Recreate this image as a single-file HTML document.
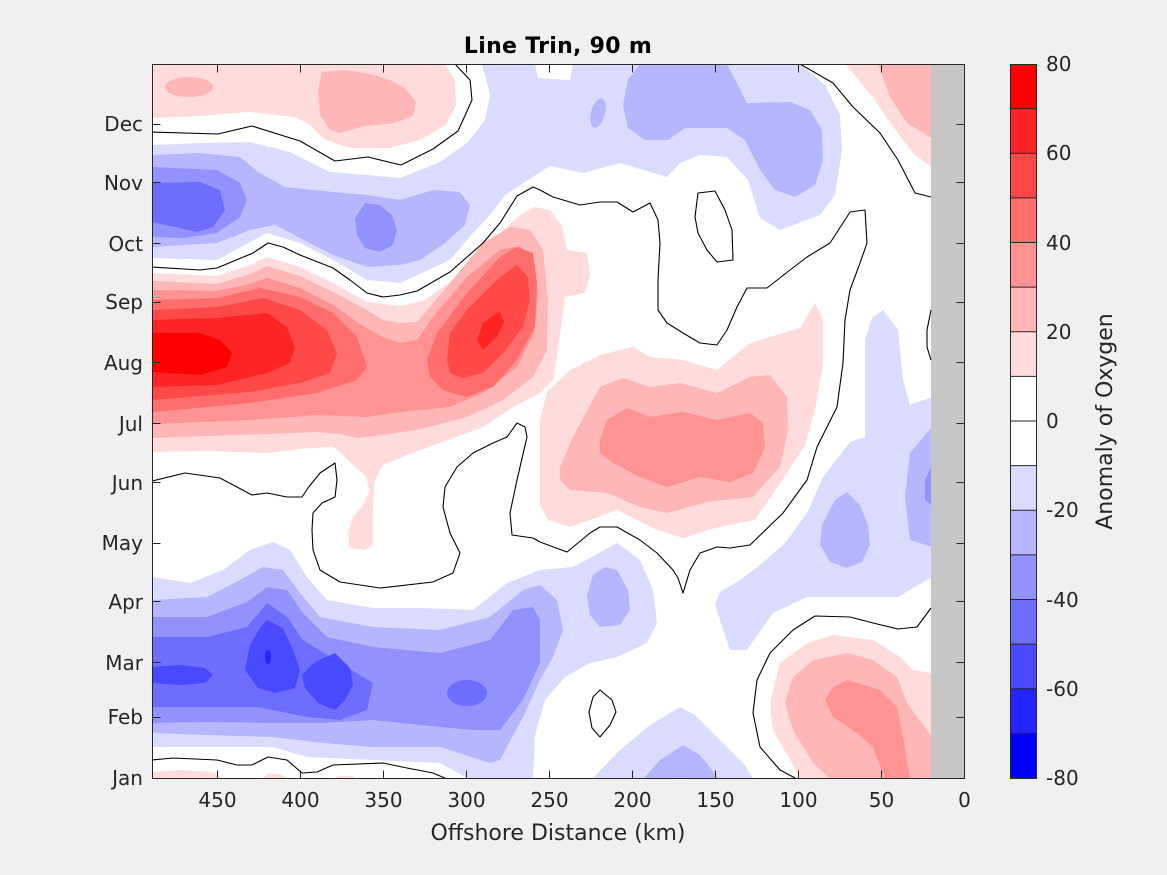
<!DOCTYPE html>
<html><head><meta charset="utf-8"><style>
html,body{margin:0;padding:0;background:#f0f0f0;}
svg{display:block;}
text{font-family:"DejaVu Sans","Liberation Sans",sans-serif;fill:#262626;}
</style></head><body>
<svg width="1167" height="875" viewBox="0 0 1167 875" xmlns="http://www.w3.org/2000/svg">
<defs><clipPath id="pc"><rect x="152.5" y="64.5" width="812" height="714"/></clipPath></defs>
<rect width="1167" height="875" fill="#f0f0f0"/>
<g clip-path="url(#pc)">
<rect x="152" y="64" width="813" height="715" fill="#ffffff"/>
<!-- top blue band -->
<polygon fill="#dbdbff" points="152,145 200,143 250,142 290,152 330,172 367,175 400,178 440,162 468,142 485,120 490,95 482,64 535,64 538,78 570,80 573,64 800,64 825,85 840,115 842,150 835,195 820,215 780,230 760,218 748,180 727,157 700,155 680,163 667,177 620,163 583,173 550,166 528,180 505,195 490,215 473,233 450,260 400,283 367,280 333,260 300,243 267,233 217,260 152,258"/>
<polygon fill="#b6b6ff" points="152,155 200,153 240,157 258,172 285,187 333,192 367,195 400,200 433,190 460,192 470,205 465,225 445,243 420,260 400,265 367,267 333,255 300,238 275,225 250,230 217,243 152,247"/>
<polygon fill="#9292ff" points="152,167 217,170 240,183 247,200 240,217 217,233 183,238 152,237"/>
<polygon fill="#6d6dff" points="152,183 200,182 220,190 225,210 213,227 197,232 152,222"/>
<polygon fill="#9292ff" points="365,203 380,205 392,215 397,230 393,245 380,252 365,248 357,235 355,218"/>
<polygon fill="#b6b6ff" points="640,64 727,64 747,103 790,102 810,110 822,130 823,160 815,185 795,197 775,190 760,170 745,140 727,128 685,128 668,140 645,140 628,128 623,105 628,80"/>
<ellipse fill="#b6b6ff" cx="598" cy="113" rx="7" ry="15" transform="rotate(15 598 113)"/>
<!-- top pinks -->
<polygon fill="#ffdbdb" points="152,64 445,64 455,80 456,105 446,125 420,140 390,148 350,148 325,140 310,125 295,117 250,112 200,116 152,118"/>
<ellipse fill="#ffb6b6" cx="189" cy="87" rx="24" ry="10"/>
<polygon fill="#ffb6b6" points="322,72 345,70 370,74 390,80 405,88 416,102 413,116 395,123 365,126 340,133 330,130 320,115 318,90"/>
<polygon fill="#ffdbdb" points="845,64 931,64 931,167 913,153 893,127 873,97"/>
<polygon fill="#ffb6b6" points="878,64 931,64 931,138 907,123 890,97"/>
<!-- Aug red band -->
<polygon fill="#ffdbdb" points="152,273 217,276 250,265 267,257 300,267 333,283 367,302 400,306 425,300 450,282 475,257 500,233 520,215 535,207 550,210 562,226 567,250 587,253 590,275 585,293 565,297 562,320 558,350 553,380 540,393 517,405 483,427 440,443 407,455 383,465 375,480 373,500 373,545 365,550 350,548 348,533 353,517 362,507 370,490 365,475 353,465 340,452 333,447 300,449 267,453 207,451 152,452"/>
<polygon fill="#ffb6b6" points="152,281 217,284 250,274 267,266 300,276 333,292 367,310 383,320 400,323 417,322 450,283 483,243 510,227 530,230 543,250 548,300 547,350 533,377 503,400 467,417 417,430 383,435 357,438 340,434 317,432 267,434 207,436 152,438"/>
<polygon fill="#ff9292" points="152,290 217,291 250,284 267,278 300,288 333,305 363,326 383,337 400,343 417,340 433,317 467,277 500,250 520,246 530,258 538,293 534,333 517,367 483,393 450,407 400,412 367,417 317,415 250,420 152,424"/>
<polygon fill="#ff6d6d" points="152,300 217,298 260,288 300,297 333,313 357,337 367,367 357,380 317,393 250,403 152,412"/>
<polygon fill="#ff6d6d" points="427,360 437,333 467,293 500,257 517,247 533,253 537,283 535,327 517,360 493,387 467,397 443,390 430,377"/>
<polygon fill="#ff4949" points="152,310 217,307 263,298 300,310 327,330 337,353 330,373 300,383 250,392 152,400"/>
<polygon fill="#ff4949" points="447,360 450,333 467,310 500,277 517,265 528,277 530,300 523,327 503,353 483,373 463,378 450,373"/>
<polygon fill="#ff2424" points="152,320 217,318 267,313 287,327 295,347 290,363 267,373 217,385 152,387"/>
<polygon fill="#ff2424" points="477,340 483,323 500,311 504,322 497,337 483,350"/>
<polygon fill="#ff0000" points="152,333 200,333 220,340 232,353 227,367 200,375 152,372"/>
<!-- Jul blob -->
<polygon fill="#ffdbdb" points="547,392 570,370 600,355 633,347 650,357 683,360 717,370 750,343 800,328 815,303 823,320 823,365 815,410 805,445 787,473 755,520 715,528 683,538 657,530 617,510 590,520 570,527 548,520 540,505 540,420"/>
<polygon fill="#ffb6b6" points="560,467 573,437 600,387 623,378 650,387 680,383 717,393 750,377 770,375 787,397 788,430 780,467 753,497 707,502 667,513 640,507 607,493 570,490 560,480"/>
<polygon fill="#ff9292" points="600,440 607,420 627,408 650,417 683,412 717,420 750,413 763,423 765,447 753,473 730,482 700,477 667,487 640,477 613,463 600,453"/>
<!-- right blue -->
<polygon fill="#dbdbff" points="865,340 872,318 883,310 898,330 903,380 910,405 932,397 932,577 898,597 807,597 773,613 747,650 730,650 715,605 720,592 740,580 760,565 785,543 807,513 823,477 850,442 865,437"/>
<polygon fill="#b6b6ff" points="847,492 860,505 868,525 870,545 862,562 847,568 830,562 820,545 822,525 835,500"/>
<polygon fill="#b6b6ff" points="932,427 910,453 905,497 910,540 932,547"/>
<polygon fill="#9292ff" points="932,465 925,480 925,500 932,505"/>
<!-- lower-left blue -->
<polygon fill="#dbdbff" points="152,577 190,583 223,570 250,550 273,542 290,550 307,577 327,600 373,608 423,608 473,610 507,583 540,570 573,567 590,558 617,543 640,560 653,590 657,623 647,643 617,657 590,663 565,677 545,700 535,735 533,778 467,778 440,763 373,760 307,757 273,747 152,747"/>
<polygon fill="#b6b6ff" points="152,600 207,597 240,580 263,567 283,570 300,593 320,617 373,627 440,630 490,617 523,590 540,585 557,600 563,630 553,657 540,680 523,717 500,760 490,763 440,747 373,747 323,743 273,737 207,735 152,733"/>
<polygon fill="#9292ff" points="152,617 207,617 247,602 267,587 287,590 303,613 327,637 373,647 440,653 490,640 513,610 533,607 540,620 540,663 523,700 500,730 473,730 440,727 373,720 323,723 273,723 207,722 152,723"/>
<polygon fill="#6d6dff" points="152,637 207,637 247,627 267,603 287,617 303,640 340,663 373,683 367,710 340,720 307,717 257,707 207,707 152,707"/>
<ellipse fill="#6d6dff" cx="467" cy="693" rx="20" ry="13"/>
<polygon fill="#4949ff" points="152,667 180,665 205,668 213,675 205,683 180,685 152,683"/>
<polygon fill="#4949ff" points="267,620 283,628 293,650 300,670 295,688 275,693 258,688 245,670 250,645 260,628"/>
<polygon fill="#4949ff" points="335,653 350,668 353,685 345,700 335,710 318,703 305,688 302,675 315,662"/>
<ellipse fill="#2424ff" cx="268" cy="657" rx="3" ry="7"/>
<!-- lower middle blue -->
<polygon fill="#b6b6ff" points="605,567 617,570 628,590 630,610 620,625 600,627 590,615 587,595 593,575"/>
<polygon fill="#dbdbff" points="592,779 620,750 650,725 680,707 695,715 720,740 745,765 753,779"/>
<polygon fill="#b6b6ff" points="643,779 660,760 683,745 700,755 712,770 718,779"/>
<!-- lower right red -->
<polygon fill="#ffdbdb" points="770,703 780,663 807,643 833,635 873,640 900,657 913,670 932,673 932,779 800,779 793,765 773,730"/>
<polygon fill="#ffb6b6" points="785,703 793,677 813,660 847,653 873,660 897,677 907,703 932,737 932,779 830,779 813,763 793,730"/>
<polygon fill="#ff9292" points="825,700 833,687 847,680 880,690 897,707 903,737 910,779 885,779 873,747 857,733 833,717"/>
<!-- bottom pink bits -->
<polygon fill="#ffdbdb" points="152,779 152,772 180,770 213,772 222,779"/>
<polygon fill="#ffdbdb" points="262,779 268,774 280,774 288,779"/>
<polygon fill="#ffdbdb" points="332,779 340,776 352,776 356,779"/>
<!-- gray land -->
<rect x="931" y="64" width="34" height="715" fill="#c6c6c6"/>
<!-- contours -->
<g fill="none" stroke="#000" stroke-width="1.1" stroke-linejoin="round">
<polyline points="152,132 218,134 252,126 300,141 335,161 368,157 401,165 433,149 458,131 472,100 470,80 455,64"/>
<polyline points="800,64 833,83 853,107 880,133 898,160 915,193 931,197"/>
<polyline points="152,267 200,270 217,268 253,253 268,243 283,247 300,255 333,268 350,280 367,293 383,297 400,295 417,291 450,272 483,243 500,223 517,196 533,187 540,190 553,197 580,205 600,202 617,202 633,212 650,203 658,220 660,243 658,280 658,310 667,323 683,333 700,343 717,345 727,330 737,307 747,288 767,288 790,270 807,257 830,243 843,223 850,212 865,210 867,243 860,263 850,290 845,320 843,363 837,407 817,447 807,480 783,513 750,545 730,548 717,547 700,553 690,570 683,593 678,578 673,570 657,553 640,540 617,527 600,527 590,533 567,552 540,542 533,538 512,535 510,513 517,480 527,437 525,427 517,423 507,437 493,443 473,453 457,467 445,487 443,507 450,533 460,553 453,573 433,582 380,588 340,582 320,570 313,550 312,530 313,513 322,503 335,497 337,480 335,463 320,473 308,488 302,497 287,497 267,493 252,495 220,478 185,473 152,481"/>
<polygon points="698,193 715,191 725,210 732,230 733,260 717,262 707,250 698,233 695,217"/>
<polyline points="931,310 927,330 927,347 931,360"/>
<polyline points="931,608 917,627 898,629 873,623 850,617 815,616 793,630 770,653 757,680 753,713 760,747 780,770 797,779"/>
<polygon points="600,690 612,700 616,712 610,725 600,737 592,728 589,712 593,697"/>
<polyline points="152,760 173,758 217,760 237,765 252,765 268,757 287,760 302,773 317,772 333,765 383,763 407,768 433,773 447,779"/>
</g>
</g>
<!-- axes box -->
<rect x="152.5" y="64.5" width="812" height="714" fill="none" stroke="#262626" stroke-width="1"/>
<g stroke="#262626" stroke-width="1">
<!-- x ticks bottom/top -->
<path d="M217.5 778.5v-8M300.5 778.5v-8M383.5 778.5v-8M466.5 778.5v-8M549.5 778.5v-8M632.5 778.5v-8M715.5 778.5v-8M798.5 778.5v-8M881.5 778.5v-8"/>
<path d="M217.5 64.5v8M300.5 64.5v8M383.5 64.5v8M466.5 64.5v8M549.5 64.5v8M632.5 64.5v8M715.5 64.5v8M798.5 64.5v8M881.5 64.5v8"/>
<!-- y ticks -->
<path d="M152.5 717.5h8M152.5 662.5h8M152.5 601.5h8M152.5 543.5h8M152.5 482.5h8M152.5 423.5h8M152.5 362.5h8M152.5 302.5h8M152.5 243.5h8M152.5 182.5h8M152.5 124.5h8"/>
<path d="M964.5 717.5h-8M964.5 662.5h-8M964.5 601.5h-8M964.5 543.5h-8M964.5 482.5h-8M964.5 423.5h-8M964.5 362.5h-8M964.5 302.5h-8M964.5 243.5h-8M964.5 182.5h-8M964.5 124.5h-8"/>
</g>
<!-- y labels -->
<g font-size="20" text-anchor="end">
<text x="143" y="785">Jan</text>
<text x="143" y="724">Feb</text>
<text x="143" y="670">Mar</text>
<text x="143" y="609">Apr</text>
<text x="143" y="550">May</text>
<text x="143" y="490">Jun</text>
<text x="143" y="431">Jul</text>
<text x="143" y="370">Aug</text>
<text x="143" y="309">Sep</text>
<text x="143" y="251">Oct</text>
<text x="143" y="190">Nov</text>
<text x="143" y="131">Dec</text>
</g>
<!-- x labels -->
<g font-size="20" text-anchor="middle">
<text x="217.5" y="807">450</text>
<text x="300.5" y="807">400</text>
<text x="383.5" y="807">350</text>
<text x="466.5" y="807">300</text>
<text x="549.5" y="807">250</text>
<text x="632.5" y="807">200</text>
<text x="715.5" y="807">150</text>
<text x="798.5" y="807">100</text>
<text x="881.5" y="807">50</text>
<text x="964.5" y="807">0</text>
</g>
<text x="558" y="840" font-size="22" text-anchor="middle">Offshore Distance (km)</text>
<text x="558" y="53" font-size="22" font-weight="bold" text-anchor="middle" style="fill:#000" letter-spacing="0.3">Line Trin, 90 m</text>
<!-- colorbar -->
<g>
<rect x="1010" y="64" width="27" height="44.6" fill="#ff0000"/>
<rect x="1010" y="108.6" width="27" height="44.6" fill="#ff2424"/>
<rect x="1010" y="153.2" width="27" height="44.6" fill="#ff4949"/>
<rect x="1010" y="197.9" width="27" height="44.6" fill="#ff6d6d"/>
<rect x="1010" y="242.5" width="27" height="44.6" fill="#ff9292"/>
<rect x="1010" y="287.1" width="27" height="44.6" fill="#ffb6b6"/>
<rect x="1010" y="331.7" width="27" height="44.6" fill="#ffdbdb"/>
<rect x="1010" y="376.4" width="27" height="44.6" fill="#ffffff"/>
<rect x="1010" y="421" width="27" height="44.6" fill="#ffffff"/>
<rect x="1010" y="465.6" width="27" height="44.6" fill="#dbdbff"/>
<rect x="1010" y="510.2" width="27" height="44.6" fill="#b6b6ff"/>
<rect x="1010" y="554.9" width="27" height="44.6" fill="#9292ff"/>
<rect x="1010" y="599.5" width="27" height="44.6" fill="#6d6dff"/>
<rect x="1010" y="644.1" width="27" height="44.6" fill="#4949ff"/>
<rect x="1010" y="688.7" width="27" height="44.6" fill="#2424ff"/>
<rect x="1010" y="733.4" width="27" height="44.6" fill="#0000ff"/>
<path stroke="#262626" stroke-width="1" d="M1010 108.6h27M1010 153.2h27M1010 197.9h27M1010 242.5h27M1010 287.1h27M1010 331.7h27M1010 376.4h27M1010 421h27M1010 465.6h27M1010 510.2h27M1010 554.9h27M1010 599.5h27M1010 644.1h27M1010 688.7h27M1010 733.4h27"/>
<rect x="1010.5" y="64.5" width="26" height="714" fill="none" stroke="#262626" stroke-width="1"/>
</g>
<g font-size="20" text-anchor="start">
<text x="1046" y="71">80</text>
<text x="1046" y="160">60</text>
<text x="1046" y="250">40</text>
<text x="1046" y="339">20</text>
<text x="1046" y="428">0</text>
<text x="1046" y="517">-20</text>
<text x="1046" y="607">-40</text>
<text x="1046" y="696">-60</text>
<text x="1046" y="785">-80</text>
</g>
<text transform="translate(1112,421.5) rotate(-90)" font-size="22" text-anchor="middle">Anomaly of Oxygen</text>
</svg>
</body></html>
